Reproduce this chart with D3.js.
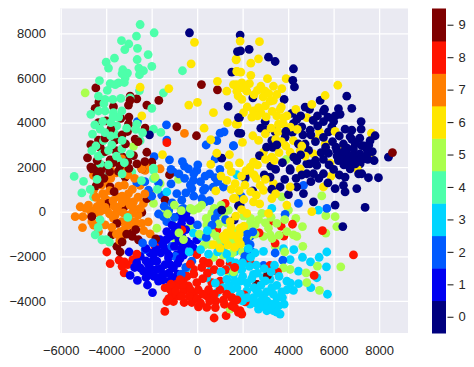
<!DOCTYPE html>
<html>
<head>
<meta charset="utf-8">
<script src="https://d3js.org/d3.v7.min.js"></script>
<style>
  html, body { margin: 0; padding: 0; background: #fff; }
  svg { display: block; }
  text { font-family: "Liberation Sans", Arial, sans-serif; fill: #262626; }
</style>
</head>
<body>
<svg id="drawing_region"></svg>
<script>
// values, one list per digit
const class0 = [[1890,7927],[2286,7290],[1905,7216],[3136,6935],[3429,6742],[4234,6416],[4205,5898],[4278,5602],[2447,5113],[3824,5039],[5407,4995],[6578,5187],[6798,4639],[4747,4698],[4938,4595],[6212,4624],[5553,4521],[4161,4417],[4381,4150],[5289,4299],[6285,4372],[6066,4299],[1861,4225],[2989,4047],[4234,3958],[5553,4047],[7209,4047],[2799,3751],[3033,3676],[3429,3588],[1920,3514],[4600,3810],[4967,3662],[5919,3810],[5773,3588],[6505,3706],[6798,3662],[7209,3706],[4190,3558],[3282,3188],[3868,3336],[6725,3366],[7824,3410],[4747,3040],[6432,3040],[5553,3336],[7604,3188],[7238,2966],[6871,2817],[7458,2817],[3326,2891],[6139,2744],[6578,2595],[7018,2521],[7384,2447],[7780,2299],[8410,2447],[2740,2521],[4381,2299],[4820,2151],[5260,2077],[5773,2625],[6212,2299],[6798,2299],[7165,2151],[3238,2047],[4088,1929],[-338,8031],[-2096,3454],[1361,4728],[1522,6268],[1082,2403],[1815,4225],[1815,3528],[1771,7187],[7970,1527],[7531,1527],[7018,1038],[6432,1186],[6505,890],[6066,1038],[7384,194],[6066,298],[6403,-665],[5114,446],[4674,816],[4381,1112],[5553,1705],[5114,1705],[4820,1705],[4088,1853],[3209,1557],[3648,1112],[4015,772],[3282,1009],[2447,935],[2110,1557],[1890,298],[1627,-369],[6505,1557],[6725,1927],[7238,1705],[1815,268],[1082,75],
    [6100,2900],[6350,2450],[6600,2850],[6800,2500],[6950,3050],[7150,2600],[7350,2950],[7500,2650],[6450,2100],[6700,2050],[6950,2150],[7250,2350],[7550,3000],[7700,2700],[5950,3150],[6250,3400],[5650,2900],[5450,2650],[5200,3150],[5000,3450],[4650,3450],[4450,3050],[4900,2750],[4250,2450],[5550,2350],[5800,2100],[5300,3850],[5100,4100],[4550,4300],[5750,4250],[6000,4050],[5600,4600],[5200,2300],[4600,1650],[4350,1500],[3850,1450],[5000,1350],[5350,1500],[5750,1300],[3500,3000],[3050,2900],[3750,2200],[2950,1650],[3450,1900],[3900,3600],[4950,2150],[4550,2550],[7100,1700],[6250,1650],[6000,1900],[6450,2700],[6150,2500],[6800,3250],[7150,3300],[7500,2350],[7050,2250],[6600,2300]];
const class1 = [[-631,-295],[-455,2],[-690,-517],[-1335,-887],[-1774,-1479],[-2989,-1805],[-2067,-1850],[-2653,-2294],[-2360,-2664],[-2946,-2857],[-2624,-3079],[-2184,-3286],[-1964,-3627],[-1701,-3109],[-1042,-2960],[-1408,-2368],[-1774,-2220],[-1335,-1701],[-602,-1479],[-163,-1627],[-895,-1924],[-2140,-2368],[-2506,-2516],[-1481,-2812],[-2067,-2812],[-455,-1331],[-968,-813],[-1627,-1257],[-16,-1257],[-1920,-1924],[-1261,-2072],[-675,-1109],[-1042,-2516],[-1774,-2590],
    [-1500,-1500],[-1200,-1100],[-800,-1300],[-500,-800],[-300,-400],[-800,-200],[-1100,-600],[-2500,-2000],[-2250,-2200],[-1950,-2200],[-1600,-1850],[-1150,-2400],[-850,-2300],[-600,-1950],[-350,-1800],[-1900,-2900],[-1600,-2550],[-1250,-2750],[-2250,-2950],[-2750,-2500],[-1500,-3050],[-1200,-3100],[-850,-2800],[-1800,-1700],[-2250,-1650],[-700,-1650],[-1000,-1550],[-300,-1450],[-1350,-1250],[-900,-700],[-500,-200],[-1250,-1950],[-2050,-2550],[-1650,-2950],[-1000,-1050],[-750,-2100]];
const class2 = [[-1349,3899],[-2624,4047],[-1334,3217],[1010,3528],[1185,3588],[395,2995],[1596,2951],[863,3188],[-1891,2477],[-1217,2329],[-558,2047],[28,2107],[790,2373],[-1042,1779],[-382,1927],[-16,1853],[350,1601],[790,1527],[-163,1409],[-236,1038],[277,964],[204,594],[1156,1112],[-895,816],[-675,520],[-602,150],[-1554,742],[-1481,-221],[-2140,964],[-2653,1305],[350,446],[790,-295],[-2287,-1701],[-968,-2000],[-236,-2220],[-1335,-443],[13,-591],[-1115,-1553],[1597,2966],[4454,372],[5700,150],[1934,698],[2330,-1109],[2330,-1479],[3429,-1850],[3766,-2175],[2916,-2412],[2037,-2220],[4674,1186],[3868,-117],[2110,1483],
    [-1700,1300],[-1150,1250],[-800,1700],[-550,1500],[-150,1700],[150,1350],[550,1700],[350,1050],[700,1100],[-500,850],[-150,700],[550,500],[-1100,400],[-1450,250],[-1700,-100],[-1000,-250],[-1250,50],[-700,100],[-300,1200],[900,1350],[-2300,1350],[-2000,700],[-1150,1900],[-650,2250],[1000,1900],[2150,-1300],[2400,-1800],[2250,-1700],[2200,-1000],[2450,-900],[2100,-2000],[-1950,-1400],[-2400,-1400],[-500,-2500],[-700,-2800],[400,-1150],[650,-600],[900,-50],[1250,-350]];
const class3 = [[5700,-1805],[5363,-2042],[5685,-2472],[4982,-2250],[4630,-2042],[4249,-1701],[5260,-2960],[4996,-3405],[5729,-3701],[4454,-2664],[4454,-3227],[4234,-3523],[3942,-3109],[3722,-3597],[3824,-4145],[3648,-4590],[3355,-4441],[3063,-4441],[2696,-4367],[3238,-4145],[2916,-3775],[3282,-3405],[2623,-3553],[2330,-4145],[2183,-3553],[1890,-3109],[1597,-2812],[1964,-2590],[2476,-2812],[2916,-2960],[1744,-3405],[3209,-3034],[2110,-1998],[2916,-1776],[3795,-1657],[1744,-1553],[3502,-3849],[3575,-4219],[3063,-3997],[2476,-3849],[4088,-2146],[3282,150],[5333,76],[1744,1660],[204,-1109],[-163,-961],[1449,-2146],[1742,-2590],[423,-2960],[863,-3627],[1156,-3405],[1522,-3479],[570,-2664],[-455,-2516],[-1335,890],[1669,-1776],[1156,-1627],[1303,-3034],
    [1900,-3700],[2200,-3200],[2500,-3400],[2800,-3300],[3050,-3600],[3350,-3700],[3500,-3300],[3600,-2900],[3250,-2700],[2950,-2550],[2600,-2400],[2300,-2450],[2000,-2900],[1650,-3100],[1400,-3300],[1300,-2600],[2400,-3000],[2700,-3650],[2200,-3850],[2000,-4000],[2600,-4100],[2900,-4250],[3250,-4300],[3450,-4100],[3750,-3850],[3950,-3500],[4100,-3200],[1700,-2300],[2000,-2300],[2350,-2050],[2550,-1850],[2250,-1650],[2650,-2750],[3400,-2400],[3000,-3100],[800,-3200],[1050,-2700],[1300,-1900],[900,-1800],[500,-1900],[150,-1700],[450,-850],[-350,-1800],[2800,-4000],[3500,-4500]];
const class4 = [[-2507,8401],[-1891,8031],[-2668,7883],[-3327,7675],[-3005,7527],[-3180,7275],[-2624,7335],[-2155,7053],[-3635,6890],[-4001,6713],[-2638,6831],[-1994,6520],[-3898,6446],[-3268,6372],[-2565,6446],[-3063,6224],[-2360,6327],[-2536,6150],[-646,6327],[-4294,5883],[-3825,5750],[-3459,5780],[-3166,6002],[-4338,5187],[-4045,5039],[-3708,5039],[-3356,5083],[-2946,5113],[-1481,5335],[-2536,5439],[-4675,4373],[-4338,4521],[-4045,4521],[-3679,4447],[-3312,4521],[-1994,4639],[-4265,3706],[-4601,3484],[-3532,3854],[-2653,3928],[-1920,3706],[-1598,3558],[-2506,3188],[-4118,3188],[-3605,3484],[-4630,2744],[-4191,2595],[-3312,2817],[-3459,2299],[-4265,2151],[-1920,1958],[-5407,1586],[-4997,1364],[-5070,846],[-4557,668],[-3898,1601],[-2873,1779],[-4265,-369],[-4484,-1035],[-4191,-1257],[-3854,-1361],[-1920,1853],[-1920,1483],
    [-4500,3900],[-4150,4050],[-3800,4000],[-3450,4250],[-3800,3400],[-4450,2950],[-3900,2750],[-3550,2500],[-3750,3000],[-3300,3200],[-2950,2600],[-2700,3700],[-2400,3550],[-3950,5450],[-3600,5700],[-3200,5800],[-3300,6200],[-4100,4850],[-3700,4250],[-3100,3750],[-4350,2500],[-3900,2100],[-4050,3550],[-4400,1450],[-3300,1700],[-2450,1400],[-1750,1000],[-4700,1000],[-4350,-700],[-4000,-1250],[-3050,-250],[-3200,2200]];
const class5 = [[-4924,5335],[-2799,2936],[3912,2344],[-1408,150],[-822,1453],[-1627,1260],[-1920,372],[-924,-1331],[-1115,-517],[-1774,-739],[-163,75],[57,150],[643,-72],[-309,-665],[423,-591],[863,-591],[1156,-147],[1010,-1331],[716,-2042],[1376,-2738],[570,-1479],[1742,-887],[1669,-1405],[1376,75],[1449,-4367],[5480,712],[5656,-176],[6066,-221],[6139,-665],[5656,-961],[4630,-665],[4337,-295],[4234,-1035],[4381,-1109],[4015,76],[3722,668],[2843,-72],[3209,-1035],[2916,-1109],[3429,-1553],[4645,-1553],[6315,-2472],[5289,-2442],[4791,-2738],[4820,-3183],[5377,-3523],[4088,-2590],[3795,-2516],[2330,-517],[1597,-1331],[1964,-1405],[2550,-591],[3502,-517],[3136,-739],[3941,-887],[2183,-813],
    [100,-1000],[400,-300],[750,150],[1050,300],[300,-1500],[650,-950],[950,-550],[1300,-500],[1550,-1850],[1300,-1250],[2000,-1800],[1700,-950],[2250,-1100],[2550,-1000],[2700,-350],[3000,-500],[3250,-250],[3600,-1050],[3850,-350],[2050,-200],[2350,-300],[-700,50],[-1000,300],[-1300,-100],[200,300],[3300,-1200],[-800,-950],[-600,-1250],[3850,-1800],[-300,150],[1150,-1950],[-1850,1550],[850,-1100],[1600,-2700]];
const class6 = [[2740,7631],[1890,7660],[1715,6846],[2359,6668],[2696,6861],[3912,5972],[1744,6298],[1920,6268],[2359,6120],[3092,5972],[6183,5676],[5626,5217],[2799,5631],[3355,5631],[3722,5528],[1597,5705],[1964,5780],[2183,5409],[1744,5409],[1964,5039],[2989,5409],[3502,5261],[3209,4965],[2696,4669],[2476,4521],[2037,4447],[5040,4817],[3648,4595],[4820,4225],[3795,4225],[3033,4254],[1773,3928],[3795,3928],[3575,3928],[4337,4595],[5377,3588],[7663,3528],[3868,3528],[2447,3410],[1993,3114],[5187,3262],[4234,3188],[5626,3040],[6330,2847],[6066,3602],[5846,2181],[5114,2595],[7604,2447],[3282,2447],[2916,2670],[4088,2670],[1861,2196],[2476,2225],[4527,2743],[2330,2003],[-118,7601],[-265,6639],[892,5854],[-2506,5587],[-1246,5528],[-368,4787],[13,4906],[716,4447],[-2433,4299],[306,3751],[1332,4002],[1713,6816],[1302,5409],[1742,5705],[1713,3928],[599,3232],[863,2625],[1420,2566],[599,2122],[1391,2077],[-1525,2566],[1742,6298],[7047,1897],[5890,1601],[5553,1112],[5040,2],[3942,298],[2330,1779],[2770,1186],[2476,446],[2916,964],[3355,1260],[1597,594],[2183,-72],[1890,-739],[1744,-1109],[1524,-1035],[3136,-72],[3282,594],[4088,1112],[4527,1927],[1302,1409],[1669,1260],[819,935],[1669,594],[1229,-1257],[716,-1479],[1010,-1627],[1815,-1257],[1449,-443],
    [1800,5200],[2050,5550],[2300,5750],[2500,5250],[2650,5450],[2900,5150],[3150,5300],[3350,5000],[3000,4750],[2800,4450],[2400,4250],[2200,4700],[2650,4300],[3300,4500],[3500,4300],[3700,4700],[3950,4300],[4100,3800],[3550,3600],[3250,3750],[3000,3500],[2700,3200],[3450,3250],[3700,3150],[3900,2950],[4400,3700],[4600,2950],[4750,2500],[3000,2350],[3400,2300],[3600,2650],[2650,2100],[2150,1850],[1950,1600],[2500,1650],[2100,1200],[2350,900],[2600,750],[1850,950],[2050,550],[1950,100],[1700,-200],[1500,-700],[1300,-950],[1850,-1000],[2050,-650],[1650,-1600],[1350,-1500],[1900,-1450],[1150,-1100],[2600,1500],[3000,1450],[3450,800],[2750,350],[1500,1000],[1050,1600],[1500,1800]];
const class7 = [[-5143,224],[-5363,-221],[-5026,-221],[-5041,-709],[-4704,76],[-4777,298],[-4411,224],[-4631,-443],[-4338,-887],[-4265,2],[-4557,1631],[-3972,1334],[-4557,964],[-4147,816],[-3532,668],[-3019,816],[-2506,1186],[-2287,1853],[-3122,1957],[-3561,1749],[-2799,446],[-2067,816],[-3972,76],[-3532,2],[-3092,-147],[-2799,150],[-3679,-295],[-3312,-443],[-3385,-887],[-3312,-1183],[-2433,-517],[-2067,-991],[-2726,-443],[-4045,-591],[-2360,372],[-3972,520],[-558,3514],[-3708,3632],[-3312,2373],[-3093,2003],[-2287,2077],[-2433,1929],[-3825,2003],[-1627,1929],
    [-4900,150],[-4650,-200],[-4400,-50],[-4250,400],[-4100,750],[-3850,950],[-3700,500],[-3500,200],[-3300,400],[-3100,550],[-2950,300],[-3250,-50],[-3600,-150],[-3850,-100],[-3750,-700],[-3550,-1000],[-3200,-800],[-3000,-350],[-2900,-100],[-2600,-150],[-2500,150],[-2600,650],[-2850,1000],[-3200,1200],[-3450,1150],[-3800,1500],[-4200,1200],[-4450,650],[-2300,800],[-2150,-450],[-2350,-850],[-3050,1650],[-2750,1500],[-3400,-1300],[-3300,700],[-4550,-600],[-3050,-600],[-4050,200],[-3650,250],[-2750,-700]];
const class8 = [[-3972,-1805],[-3825,-2324],[-3429,-2175],[-3063,-2368],[-3210,-2738],[-2829,-2146],[-1847,-1553],[-1422,-4471],[746,-4767],[1273,-4664],[-1335,-4027],[-1042,-4027],[-1188,-3479],[-1408,-3405],[-602,-3035],[-382,-3331],[-16,-3183],[-602,-3553],[-163,-3701],[-822,-3775],[-573,-4071],[-236,-4071],[57,-4264],[423,-4293],[819,-4007],[1156,-3968],[1522,-3849],[1522,-4219],[1815,-4516],[-163,-2590],[277,-2220],[-16,-1924],[1010,-3109],[643,-3183],[1010,-2294],[1449,-2324],[1230,372],[863,-813],[-675,-813],[423,-3775],[-529,-2813],[-968,-3257],[3165,-472],[3692,-650],[4191,-561],[2725,-946],[3810,-1094],[5509,-843],[6872,-1939],[3194,-2412],[3531,-2694],[5143,-2857],[2623,-3257],[2066,-3730],[1524,-3849],[1568,-4219],[1890,-4441],[1964,-4590],[2110,-4042],[1495,-2442],[2330,-2264],[3429,-1405],[-1332,3100],
    [-1100,-3700],[-850,-3300],[-600,-3250],[-300,-3500],[50,-3500],[250,-3000],[500,-3500],[750,-3700],[1000,-3500],[-1250,-3900],[-950,-3550],[-350,-3800],[0,-3900],[250,-3700],[550,-4000],[-700,-3800],[-450,-2900],[-150,-2800],[200,-2500],[500,-2300],[750,-2600],[1250,-2600],[-750,-3050],[-1150,-3250],[1300,-3700],[1650,-4300],[1750,-3950],[-2650,-1900],[-3200,-2250],[-3300,-2450],[150,-4100],[800,-4300],[1200,-4150],[450,-2750],[1650,-2500],[-300,-2350]];
const class9 = [[-4455,5557],[189,5705],[892,5469],[-2946,5187],[-2653,5069],[-4323,4921],[-1686,4995],[-2213,4787],[-3019,4787],[-4484,4639],[-3679,4713],[-3356,4195],[-4338,4002],[-4001,4076],[-3019,3928],[-2286,3751],[-895,3810],[-30,3410],[-3063,3602],[-3605,3217],[-4338,3217],[-4675,3010],[-2726,3262],[-3576,2743],[-2213,2670],[-2799,2521],[-4821,2418],[-3825,2329],[-3459,2255],[-1994,2225],[-4675,2003],[-4118,2047],[-4484,1973],[-3268,2447],[-4264,2892],[-4631,1927],[-4191,1957],[-4411,1631],[-3166,1557],[-3459,1808],[-2433,1927],[-1217,1660],[-4440,1157],[-3825,1112],[-3898,372],[-2213,594],[-1408,520],[-3210,224],[-2433,-28],[-4631,-221],[-3532,-517],[-2580,-1257],[-3752,-1035],[-1818,-1213],[-3532,-1553],[-3385,-1805],[-2873,-961],[2623,-3257],[3092,-2857],[8586,2655],
    [-4050,2700],[-3700,2200],[-4400,2300],[-3300,3450],[-3800,3700],[-4050,3300],[-3150,3050],[-3050,2250],[-2650,2150],[-4250,1800],[-3850,1800],[-3400,2050],[-3000,4250],[-2950,5000],[-4100,1500],[-3000,1950],[-2600,3150],[-2300,2250],[-4300,1250],[-3650,900],[-2850,-1100],[-3300,-1350],[-3100,-1000],[-2700,-800]];

const digits = d3.range(10);
const jetColors = ['#00007f', '#0000f1', '#005aff', '#00d5ff', '#4dffaa', '#aaff4d', '#ffe600', '#ff7e00', '#ff1400', '#7f0000'];
const xTicks = [-6000, -4000, -2000, 0, 2000, 4000, 6000, 8000];
const yTicks = [-4000, -2000, 0, 2000, 4000, 6000, 8000];

const width = 474, height = 367;
const margin = {top: 8.5, right: 66, bottom: 34, left: 60};
const bar = {left: 432, width: 14};

const classes = [class0, class1, class2, class3, class4, class5, class6, class7, class8, class9];

// the scatter plots the digits shuffled, so go through them turn by turn
const points = [];
d3.range(d3.max(classes, c => c.length)).forEach( i => {
    classes.forEach( (c, digit) => {
        if (c[i]) points.push({x: c[i][0], y: c[i][1], digit: digit});
    });
});

const svg = d3.select('#drawing_region')
    .attr('width', width)
    .attr('height', height);

const inner_width = width - margin.left - margin.right;
const inner_height = height - margin.top - margin.bottom;

const xscale = d3.scaleLinear()
    .domain([-6030, 9270])
    .range([0, inner_width]);

const yscale = d3.scaleLinear()
    .domain([-5440, 9120])
    .range([inner_height, 0]);

const color = d3.scaleOrdinal(digits, jetColors);

const chart = svg.append('g')
    .attr('transform', `translate(${margin.left}, ${margin.top})`);

chart.append('rect')
    .attr('width', inner_width)
    .attr('height', inner_height)
    .attr('fill', '#eaeaf2');

const xaxis_group = chart.append('g')
    .attr('transform', `translate(0, ${inner_height})`)
    .call( d3.axisBottom(xscale).tickValues(xTicks).tickFormat(d3.format('d')).tickSize(-inner_height).tickPadding(13) );

const yaxis_group = chart.append('g')
    .call( d3.axisLeft(yscale).tickValues(yTicks).tickFormat(d3.format('d')).tickSize(-inner_width).tickPadding(14) );

[xaxis_group, yaxis_group].forEach( g => {
    g.select('.domain').remove();
    g.selectAll('line').attr('stroke', '#fff').attr('stroke-width', 1.3);
    g.selectAll('text').attr('font-size', 13).style('font-family', null);
});

chart.append('g')
    .selectAll('circle')
    .data(points)
    .join('circle')
    .attr('cx', d => xscale(d.x))
    .attr('cy', d => yscale(d.y))
    .attr('r', 4.4)
    .attr('fill', d => color(d.digit));

// colorbar
const cscale = d3.scaleLinear()
    .domain([-0.5, 9.5])
    .range([margin.top + inner_height, margin.top]);

const colorbar = svg.append('g')
    .attr('transform', `translate(${bar.left}, 0)`);

colorbar.selectAll('rect')
    .data(digits)
    .join('rect')
    .attr('x', 0)
    .attr('y', d => cscale(d + 0.5))
    .attr('width', bar.width)
    .attr('height', d => cscale(d - 0.5) - cscale(d + 0.5) + 0.5)
    .attr('fill', d => color(d));

const caxis = colorbar.append('g')
    .attr('transform', `translate(${bar.width + 1.5}, 0)`)
    .call( d3.axisRight(cscale).tickValues(digits).tickSize(6).tickPadding(5) );

caxis.select('.domain').remove();
caxis.selectAll('line').attr('stroke', '#262626').attr('stroke-width', 1.1);
caxis.selectAll('text').attr('font-size', 13).style('font-family', null);
</script>
</body>
</html>
